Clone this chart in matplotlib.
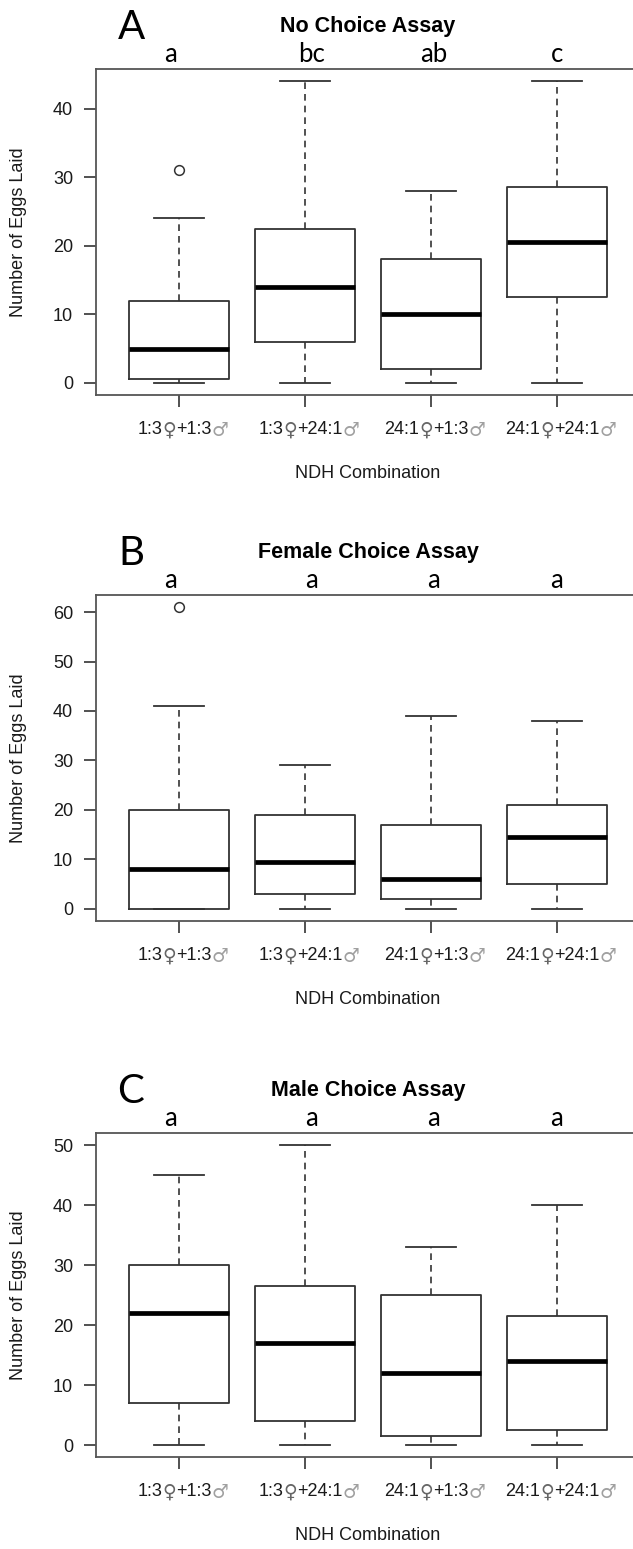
import numpy as np
import matplotlib.pyplot as plt
from matplotlib.transforms import blended_transform_factory

plt.rcParams['font.family'] = ['Liberation Sans', 'DejaVu Sans']

groups = ['1:3♀+1:3♂', '1:3♀+24:1♂', '24:1♀+1:3♂', '24:1♀+24:1♂']

# five-number summaries: whisker low, Q1, median, Q3, whisker high
no_choice = [[0, 0.5, 5, 12, 24], [0, 6, 14, 22.5, 44], [0, 2, 10, 18, 28], [0, 12.5, 20.5, 28.5, 44]]
no_choice_out = [[31], [], [], []]
no_choice_letters = ['a', 'bc', 'ab', 'c']

female_choice = [[0, 0, 8, 20, 41], [0, 3, 9.5, 19, 29], [0, 2, 6, 17, 39], [0, 5, 14.5, 21, 38]]
female_choice_out = [[61], [], [], []]
female_choice_letters = ['a', 'a', 'a', 'a']

male_choice = [[0, 7, 22, 30, 45], [0, 4, 17, 26.5, 50], [0, 1.5, 12, 25, 33], [0, 2.5, 14, 21.5, 40]]
male_choice_out = [[], [], [], []]
male_choice_letters = ['a', 'a', 'a', 'a']

panels = [
    ('A', 'No Choice Assay', no_choice, no_choice_out, no_choice_letters, 10),
    ('B', 'Female Choice Assay', female_choice, female_choice_out, female_choice_letters, 10),
    ('C', 'Male Choice Assay', male_choice, male_choice_out, male_choice_letters, 10),
]

W, H = 633, 1549
fig = plt.figure(figsize=(W / 100, H / 100), dpi=100)
renderer = fig.canvas.get_renderer()

# axes tops / bottoms in pixels
ax_px = [(69, 395), (595, 921), (1133, 1457)]
left_px, right_px = 96, 640
letter_shift = [-0.07, 0.05, 0.02, 0.0]
line_col = '#333333'
sym_style = {'♀': dict(color='#666666', family=['DejaVu Sans'], fontsize=13.5),
             '♂': dict(color='#a0a0a0', family=['DejaVu Sans'], fontsize=13.5)}


def split_label(s):
    runs, cur = [], ''
    for ch in s:
        if ch in sym_style:
            if cur:
                runs.append(cur)
                cur = ''
            runs.append(ch)
        else:
            cur += ch
    if cur:
        runs.append(cur)
    return runs


def draw_label(ax, x, label, y_off_pt):
    # pieces of one tick label, the sex symbols drawn grey as in the original
    pieces = []
    for run in split_label(label):
        kw = sym_style.get(run, dict(color='#1a1a1a', fontsize=13))
        t = ax.annotate(run, xy=(x, 0), xycoords=('data', 'axes fraction'), xytext=(0, y_off_pt),
                        textcoords='offset points', ha='left', va='center', annotation_clip=False, **kw)
        pieces.append(t)
    widths = [p.get_window_extent(renderer).width * 72 / fig.dpi for p in pieces]
    start = -sum(widths) / 2
    for p, w in zip(pieces, widths):
        p.set_position((start, y_off_pt))
        start += w


for (tag, title, summ, outs, letters, step), (top, bot) in zip(panels, ax_px):
    ax = fig.add_axes([left_px / W, 1 - bot / H, (right_px - left_px) / W, (bot - top) / H])
    stats = []
    for s, o in zip(summ, outs):
        stats.append(dict(whislo=s[0], q1=s[1], med=s[2], q3=s[3], whishi=s[4], fliers=o))
    ax.bxp(stats, positions=[1, 2, 3, 4], widths=0.8, capwidths=0.4, showfliers=True,
           boxprops=dict(color=line_col, linewidth=1.3),
           medianprops=dict(color='black', linewidth=3.4, solid_capstyle='butt'),
           whiskerprops=dict(color=line_col, linewidth=1.2, linestyle=(0, (4, 3))),
           capprops=dict(color=line_col, linewidth=1.3),
           flierprops=dict(marker='o', markerfacecolor='none', markeredgecolor=line_col,
                           markersize=7, markeredgewidth=1.1))

    allv = [v for s in summ for v in s] + [v for o in outs for v in o]
    lo, hi = min(allv), max(allv)
    pad = 0.04 * (hi - lo)
    ax.set_ylim(lo - pad, hi + pad)
    ax.set_xlim(0.5 - 0.16, 4.5 + 0.16)
    ax.set_yticks(np.arange(0, hi + 0.1, step))
    ax.set_xticks([1, 2, 3, 4])
    ax.set_xticklabels([])
    ax.tick_params(axis='both', direction='out', length=8.5, width=1.2, color=line_col,
                   labelsize=13, labelcolor='#1a1a1a')
    ax.tick_params(axis='y', pad=8)
    for sp in ['left', 'top', 'bottom', 'right']:
        ax.spines[sp].set_color('#555555')
        ax.spines[sp].set_linewidth(1.3)

    h = bot - top
    for i, g in enumerate(groups):
        draw_label(ax, i + 1.03, g, -35 * 72 / 100)

    ax.text(-(left_px - 18) / (right_px - left_px), 0.5, 'Number of Eggs Laid', rotation=90,
            ha='center', va='center', fontsize=13, color='#1a1a1a', transform=ax.transAxes)
    ax.text(0.5, -78 / h, 'NDH Combination', ha='center', va='center', fontsize=13,
            color='#1a1a1a', transform=ax.transAxes)
    ax.text(0.5, 1 + 37 / h, title, ha='center', va='baseline', fontsize=15.5,
            fontweight='bold', transform=ax.transAxes)

    tr = blended_transform_factory(ax.transData, ax.transAxes)
    for i, lt in enumerate(letters):
        ax.text(i + 1 + letter_shift[i], 1 + 7 / h, lt, ha='center', va='baseline',
                fontsize=18.5, family='Lato', transform=tr)
    ax.text((131 - left_px) / (right_px - left_px), 1 + 30 / h, tag, ha='center', va='baseline',
            fontsize=29, family='Lato', transform=ax.transAxes)

fig.savefig('out.png', dpi=100)
